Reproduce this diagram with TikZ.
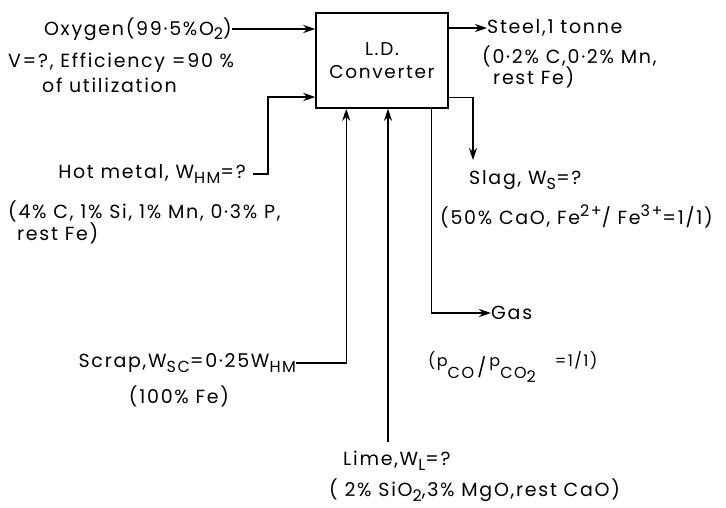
\documentclass[tikz,border=0pt]{standalone}
\usepackage{fontspec}
\setmainfont[LetterSpace=9]{Poppins}
\usetikzlibrary{positioning,arrows.meta,calc}
\newcommand{\subtxt}[1]{\raisebox{-0.45ex}{\fontsize{16}{16}\selectfont #1}}
\newcommand{\suptxt}[1]{\raisebox{0.75ex}{\fontsize{16}{16}\selectfont #1}}
\tikzset{
  convbox/.style={draw,line width=1.5pt,minimum width=132pt,minimum height=95pt,align=center,inner sep=0pt,font=\fontsize{18.5}{23}\selectfont},
  lab/.style={inner sep=0pt,font=\fontsize{19}{22}\selectfont},
  flow/.style={line width=1.5pt,-{Stealth[length=12pt,width=8pt]}}
}
\begin{document}
\begin{tikzpicture}[x=1pt,y=-1pt]
  \useasboundingbox (0,0) rectangle (726,507);
  \node[convbox] (ld) at (382,60.5) {L.D.\\Converter};
  \node[lab,anchor=east] (oxy) at (232,29) {Oxygen(99·5\%O\subtxt{2})};
  \node[lab,anchor=west] (oxyv) at (8,63) {V=?, Efficiency =90 \%};
  \node[lab,anchor=west] (oxyu) at (42,85) {of utilization};
  \node[lab,anchor=west] (steel) at (487,28) {Steel,1 tonne};
  \node[lab,anchor=west] (steelc) at (482,56) {(0·2\% C,0·2\% Mn,};
  \node[lab,anchor=west] (steelr) at (493,77) {rest Fe)};
  \node[lab,anchor=east,inner xsep=7pt] (hm) at (253,174) {Hot metal, W\subtxt{HM}=?};
  \node[lab,anchor=west] (hmc) at (8,211) {(4\% C, 1\% Si, 1\% Mn, 0·3\% P,};
  \node[lab,anchor=west] (hmr) at (17,233) {rest Fe)};
  \node[lab,anchor=west] (slag) at (469,180) {Slag, W\subtxt{S}=?};
  \node[lab,anchor=west] (slagc) at (440,216) {(50\% CaO, Fe\suptxt{2+}/ Fe\suptxt{3+}=1/1)};
  \node[lab,anchor=west] (gas) at (491,313) {Gas};
  \node[lab,anchor=west] (gasc) at (428,367) {\suptxt{(p}\subtxt{CO}\,/\,\suptxt{p}\subtxt{CO\subtxt{2}}\quad\suptxt{=1/1)}};
  \node[lab,anchor=east] (scrap) at (296,363) {Scrap,W\subtxt{SC}=0·25W\subtxt{HM}};
  \node[lab] (scrapc) at (179,396) {(100\% Fe)};
  \node[lab,anchor=west] (lime) at (343,461) {Lime,W\subtxt{L}=?};
  \node[lab,anchor=west] (limec) at (329,490) {( 2\% SiO\subtxt{2},3\% MgO,rest CaO)};
  \coordinate (slagtip) at (473,160);
  \coordinate (limefoot) at (388,442);
  \draw[flow] (oxy.east) -- (oxy.east -| ld.west);
  \draw[flow] (ld.east |- steel.west) -- (steel.west);
  \draw[flow] (hm.east) -- ++(15,0) |- ($(ld.west)+(0,36.5)$);
  \draw[flow] ($(ld.east)+(0,37)$) -| (slagtip);
  \draw[flow] ($(ld.south west)+(116,0)$) |- (gas.west);
  \draw[flow] (scrap.east) -| ($(ld.south west)+(31,0)$);
  \draw[flow] (limefoot) -- (limefoot |- ld.south);
\end{tikzpicture}
\end{document}
